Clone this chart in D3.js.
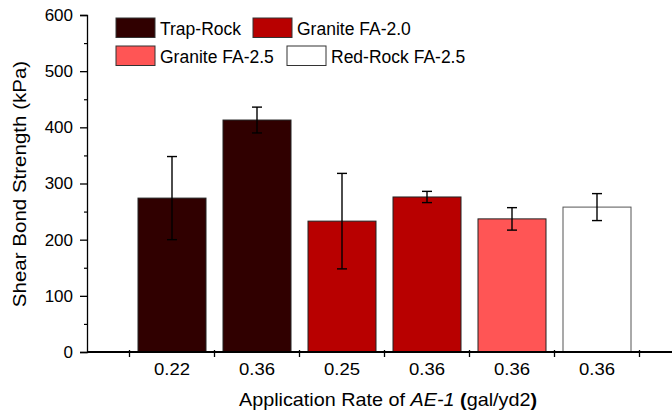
<!DOCTYPE html>
<html>
<head>
<meta charset="utf-8">
<script src="https://cdn.jsdelivr.net/npm/d3@7"></script>
<style>
  body { margin: 0; background: #fff; }
  svg text { font-family: "Liberation Sans", Arial, sans-serif; fill: #000; }
</style>
</head>
<body>
<svg id="chart" width="672" height="412"></svg>
<script>
// data
const rates = ["0.22", "0.36", "0.25", "0.36", "0.36", "0.36"];
const groups = ["Trap-Rock", "Trap-Rock", "Granite FA-2.0", "Granite FA-2.0", "Granite FA-2.5", "Red-Rock FA-2.5"];
const strength = [274, 413, 233, 276, 237, 258];
const errors = [74, 23, 85, 10, 20, 24];

const legendNames = ["Trap-Rock", "Granite FA-2.0", "Granite FA-2.5", "Red-Rock FA-2.5"];
const legendColors = ["#300000", "#b80000", "#ff5555", "#ffffff"];
const yTicks = [0, 100, 200, 300, 400, 500, 600];

const svg = d3.select("#chart");
const M = { left: 87, top: 15, bottom: 352 };

const x = d3.scaleLinear().domain([0, 7]).range([M.left, M.left + 7 * 85]);
const y = d3.scaleLinear().domain([0, 600]).range([M.bottom, M.top]);
const color = d3.scaleOrdinal().domain(legendNames).range(legendColors);
const barW = 68;

// bars
svg.append("g")
  .selectAll("rect")
  .data(strength)
  .enter()
  .append("rect")
  .attr("x", (d, i) => x(i + 1) - barW / 2)
  .attr("y", (d) => y(d))
  .attr("width", barW)
  .attr("height", (d) => y(0) - y(d))
  .attr("fill", (d, i) => color(groups[i]))
  .attr("stroke", (d, i) => (i === 5 ? "#555" : "#222"))
  .attr("stroke-width", 1);

// error bars
const err = svg.append("g").attr("stroke", "#000").attr("stroke-width", 1.4);
strength.forEach((v, i) => {
  const cx = x(i + 1);
  err.append("line").attr("x1", cx).attr("x2", cx)
    .attr("y1", y(v + errors[i])).attr("y2", y(v - errors[i]));
  [v + errors[i], v - errors[i]].forEach((e) => {
    err.append("line").attr("x1", cx - 5).attr("x2", cx + 5)
      .attr("y1", y(e)).attr("y2", y(e));
  });
});

// y axis
const yAxis = svg.append("g").attr("transform", `translate(${M.left},0)`)
  .call(d3.axisLeft(y).tickValues(yTicks).tickSize(7).tickPadding(7));
yAxis.select(".domain").attr("stroke-width", 1.3);
yAxis.selectAll(".tick line").attr("stroke-width", 1.3);
yAxis.selectAll("text").style("font-size", "17px");
svg.append("g").attr("transform", `translate(${M.left},0)`)
  .call(d3.axisLeft(y).tickValues(d3.range(50, 600, 100)).tickSize(3).tickFormat(""))
  .call((g) => g.select(".domain").remove())
  .selectAll("line").attr("stroke-width", 1.2);

// x axis
const xAxis = svg.append("g").attr("transform", `translate(0,${M.bottom})`);
xAxis.append("line").attr("x1", M.left).attr("x2", 672)
  .attr("stroke", "#000").attr("stroke-width", 2.2);
xAxis.selectAll(".xt")
  .data(d3.range(0.5, 7, 1))
  .enter()
  .append("line")
  .attr("x1", (d) => x(d)).attr("x2", (d) => x(d))
  .attr("y1", -2).attr("y2", 5)
  .attr("stroke", "#000").attr("stroke-width", 1.3);
xAxis.selectAll(".xl")
  .data(rates)
  .enter()
  .append("text")
  .attr("transform", (d, i) => `translate(${x(i + 1)},23) scale(1.09,1)`)
  .attr("text-anchor", "middle")
  .style("font-size", "17px")
  .text((d) => d);

// axis titles
const xt = svg.append("text")
  .attr("transform", "translate(388,406) scale(1.1,1)")
  .attr("text-anchor", "middle")
  .style("font-size", "18px");
xt.append("tspan").text("Application Rate of ");
xt.append("tspan").style("font-style", "italic").text("AE-1");
xt.append("tspan").text(" ");
xt.append("tspan").style("font-weight", "bold").text("(");
xt.append("tspan").text("gal/yd2");
xt.append("tspan").style("font-weight", "bold").text(")");

svg.append("text")
  .attr("transform", "translate(26,184) rotate(-90) scale(1.14,1)")
  .attr("text-anchor", "middle")
  .style("font-size", "18px")
  .text("Shear Bond Strength (kPa)");

// legend
const legendPos = [[116, 18], [253, 18], [116, 46], [287, 46]];
const legend = svg.append("g");
legendNames.forEach((name, i) => {
  const [lx, ly] = legendPos[i];
  legend.append("rect")
    .attr("x", lx).attr("y", ly).attr("width", 39).attr("height", 19.5)
    .attr("fill", color(name)).attr("stroke", "#333").attr("stroke-width", 1);
  legend.append("text")
    .attr("x", lx + 44).attr("y", ly + 16.5)
    .style("font-size", "17.5px")
    .text(name);
});
</script>
</body>
</html>
